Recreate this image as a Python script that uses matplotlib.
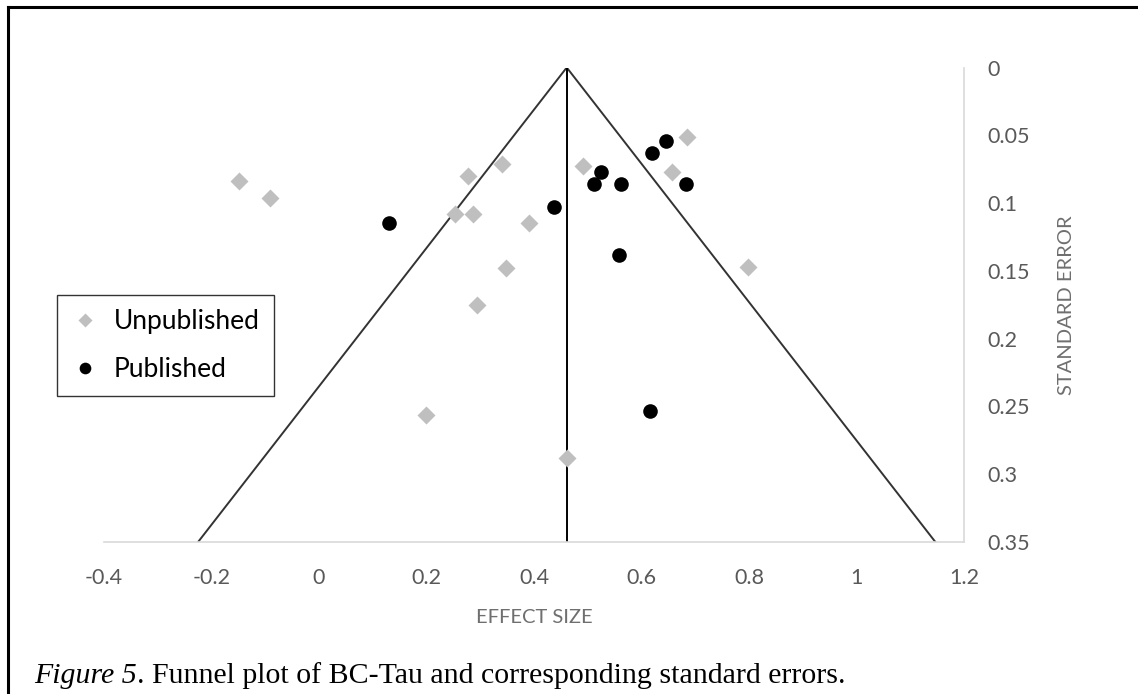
import matplotlib
matplotlib.use("Agg")
import matplotlib.pyplot as plt
from matplotlib.lines import Line2D

# Funnel plot data (effect size, standard error)
unpub_es = [-0.148, -0.091, 0.277, 0.340, 0.253, 0.287, 0.390, 0.348, 0.294,
            0.492, 0.657, 0.685, 0.798, 0.200, 0.461]
unpub_se = [0.084, 0.096, 0.080, 0.071, 0.108, 0.108, 0.115, 0.148, 0.175,
            0.073, 0.077, 0.051, 0.147, 0.256, 0.288]

pub_es = [0.130, 0.438, 0.525, 0.511, 0.562, 0.620, 0.645, 0.682, 0.559, 0.616]
pub_se = [0.115, 0.103, 0.077, 0.086, 0.086, 0.063, 0.054, 0.086, 0.138, 0.253]

# funnel outline and mean effect line
funnel_es = [-0.225, 0.461, 1.147]
funnel_se = [0.35, 0.0, 0.35]
mean_es = [0.461, 0.461]
mean_se = [0.0, 0.35]

x_ticks = [-0.4, -0.2, 0, 0.2, 0.4, 0.6, 0.8, 1, 1.2]
x_labels = ["-0.4", "-0.2", "0", "0.2", "0.4", "0.6", "0.8", "1", "1.2"]
y_ticks = [0, 0.05, 0.1, 0.15, 0.2, 0.25, 0.3, 0.35]
y_labels = ["0", "0.05", "0.1", "0.15", "0.2", "0.25", "0.3", "0.35"]

plt.rcParams["font.family"] = ["Lato", "DejaVu Sans"]

fig = plt.figure(figsize=(11.38, 6.94), dpi=100)
ax = fig.add_axes([0.0914, 0.219, 0.7556, 0.6837])

ax.plot(funnel_es, funnel_se, color="#333333", lw=1.4, zorder=2)
ax.plot(mean_es, mean_se, color="black", lw=1.4, zorder=2)
ax.plot(unpub_es, unpub_se, ls="none", marker="D", ms=9, color="#BFBFBF",
        mec="none", label="Unpublished", zorder=3)
ax.plot(pub_es, pub_se, ls="none", marker="o", ms=10.5, color="black",
        mec="none", label="Published", zorder=4)

ax.set_xlim(-0.4, 1.2)
ax.set_ylim(0.35, 0)
ax.set_xticks(x_ticks, x_labels)
ax.set_yticks(y_ticks, y_labels)
ax.yaxis.tick_right()
ax.yaxis.set_label_position("right")
ax.tick_params(length=0, labelsize=15.5, labelcolor="#595959")
ax.tick_params(axis="x", pad=19)
ax.tick_params(axis="y", pad=17)
for side in ["top", "left"]:
    ax.spines[side].set_visible(False)
for side in ["bottom", "right"]:
    ax.spines[side].set_color("#D9D9D9")
    ax.spines[side].set_linewidth(1.2)

ax.set_xlabel("EFFECT SIZE", fontsize=14.5, color="#6F6F6F", labelpad=15)
ax.set_ylabel("STANDARD ERROR", fontsize=14.5, color="#6F6F6F", labelpad=20)

leg = ax.legend(loc="upper left", bbox_to_anchor=(0.050, 0.575),
                bbox_transform=fig.transFigure, borderaxespad=0,
                fontsize=19, frameon=True, fancybox=False, markerscale=0.8,
                handlelength=1.0, handletextpad=0.6, labelspacing=0.85,
                borderpad=0.55)
leg.get_frame().set_edgecolor("black")
leg.get_frame().set_linewidth(1.0)

# caption: italic figure number, then plain text
cap = fig.text(0.030, 0.016, "Figure 5", family="Liberation Serif",
               style="italic", fontsize=21.5, va="baseline")
ax.annotate(". Funnel plot of BC-Tau and corresponding standard errors.",
            xy=(1, 0), xycoords=cap, va="bottom", ha="left",
            family="Liberation Serif", fontsize=21.5, annotation_clip=False)

# page border (top and left)
fig.add_artist(Line2D([0.0066, 0.0066], [0, 0.990], color="black", lw=2.2,
                      transform=fig.transFigure))
fig.add_artist(Line2D([0.0066, 1.0], [0.990, 0.990], color="black", lw=2.2,
                      transform=fig.transFigure))

fig.savefig("out.png", dpi=100)
